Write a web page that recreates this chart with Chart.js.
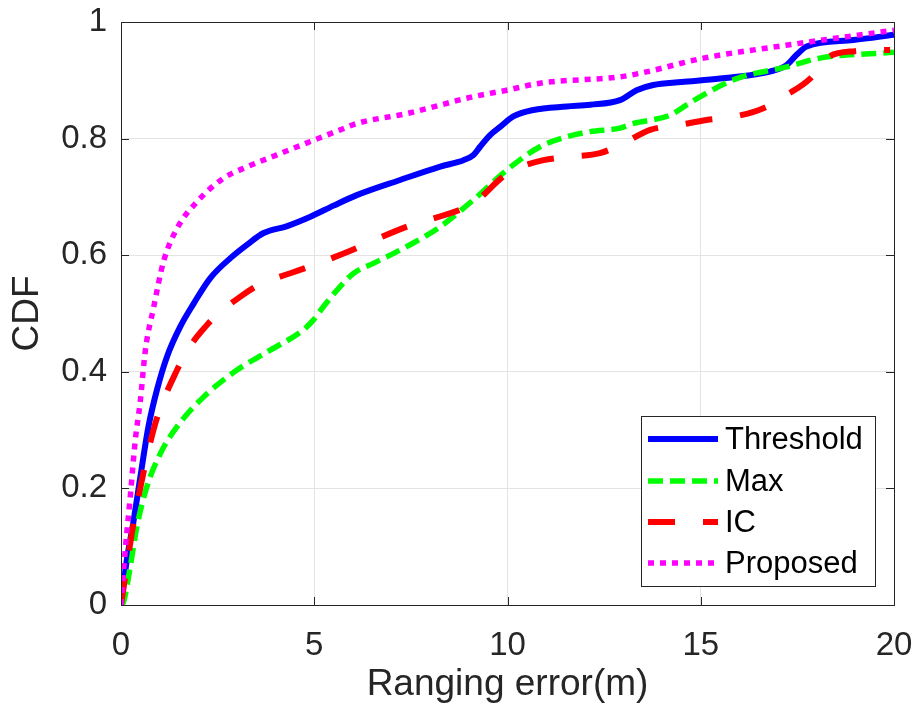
<!DOCTYPE html>
<html>
<head>
<meta charset="utf-8">
<script src="https://cdn.jsdelivr.net/npm/chart.js@4"></script>
<style>
  body { margin: 0; background: #fff; }
</style>
</head>
<body>
<canvas id="myChart" width="918" height="716"></canvas>
<script>
// values
const seriesNames = ['Threshold', 'Max', 'IC', 'Proposed'];

const thresholdX = [0, 0.15, 0.33, 0.54, 0.71, 0.93, 1.19, 1.53, 1.88, 2.3, 2.83, 3.3, 3.69, 4.3, 4.9, 5.5, 6.1, 7.22, 8.26, 8.86, 9.12, 9.29, 9.55, 9.81, 10.15, 10.67, 11.53, 12.14, 12.91, 13.34, 13.77, 14.5, 15.5, 16.79, 17.22, 17.5, 17.74, 18.95, 20];
const thresholdY = [0, 0.077, 0.146, 0.237, 0.306, 0.369, 0.426, 0.477, 0.517, 0.56, 0.595, 0.62, 0.638, 0.65, 0.666, 0.685, 0.703, 0.729, 0.752, 0.763, 0.772, 0.786, 0.806, 0.82, 0.838, 0.849, 0.855, 0.858, 0.866, 0.883, 0.892, 0.897, 0.903, 0.915, 0.926, 0.945, 0.958, 0.969, 0.978];

const maxX = [0, 0.07, 0.24, 0.41, 0.67, 1.02, 1.45, 2.14, 3.0, 3.86, 4.72, 4.98, 5.24, 5.67, 6.02, 6.53, 7.4, 8.26, 9.12, 9.98, 10.84, 11.53, 12.14, 12.91, 13.26, 14.2, 14.64, 15.07, 15.93, 17.22, 18.08, 20];
const maxY = [0, 0.006, 0.066, 0.134, 0.203, 0.26, 0.306, 0.357, 0.403, 0.437, 0.472, 0.489, 0.512, 0.546, 0.569, 0.586, 0.615, 0.649, 0.695, 0.746, 0.786, 0.803, 0.812, 0.818, 0.826, 0.84, 0.858, 0.875, 0.903, 0.923, 0.938, 0.948];

const icX = [0, 0.28, 0.54, 0.89, 1.45, 1.8, 2.22, 2.39, 3.09, 3.65, 4.38, 4.98, 5.76, 7.4, 8.77, 9.12, 9.89, 10.15, 10.93, 11.62, 12.39, 13.0, 13.69, 14.42, 15.15, 15.89, 16.62, 17.22, 17.83, 18.26, 18.99, 19.9];
const icY = [0, 0.123, 0.214, 0.312, 0.403, 0.445, 0.48, 0.492, 0.529, 0.552, 0.569, 0.583, 0.603, 0.649, 0.678, 0.689, 0.735, 0.746, 0.763, 0.769, 0.775, 0.792, 0.815, 0.823, 0.832, 0.838, 0.852, 0.875, 0.903, 0.938, 0.95, 0.952];

const proposedX = [0, 0.11, 0.24, 0.37, 0.5, 0.63, 0.84, 1.1, 1.45, 1.97, 2.65, 3.17, 4.03, 4.9, 5.67, 6.1, 7.4, 9.12, 9.98, 10.84, 12.91, 13.43, 15.07, 17.2, 20];
const proposedY = [0, 0.094, 0.186, 0.283, 0.35, 0.437, 0.509, 0.589, 0.646, 0.692, 0.732, 0.749, 0.772, 0.795, 0.815, 0.826, 0.843, 0.872, 0.883, 0.895, 0.906, 0.912, 0.938, 0.96, 0.986];

const yTickLabels = ['0', '0.2', '0.4', '0.6', '0.8', '1'];
const xTickLabels = ['0', '5', '10', '15', '20'];

const textColor = '#262626';
const fontFamily = '"Liberation Sans", Arial, Helvetica, sans-serif';

function pts(xs, ys) {
    return xs.map((x, i) => ({ x: x, y: ys[i] }));
}

function makeSet(label, xs, ys, color, width, dash, order) {
    return {
        label: label,
        data: pts(xs, ys),
        borderColor: color,
        backgroundColor: color,
        borderWidth: width,
        borderDash: dash,
        borderCapStyle: 'butt',
        pointRadius: 0,
        cubicInterpolationMode: 'monotone',
        fill: false,
        order: order
    };
}

// box with inward ticks on all four sides, like the original
const framePlugin = {
    id: 'frame',
    afterDatasetsDraw(chart) {
        const { ctx, chartArea: a, scales: { x, y } } = chart;
        ctx.save();
        ctx.strokeStyle = textColor;
        ctx.lineWidth = 1;
        ctx.strokeRect(Math.round(a.left) + 0.5, Math.round(a.top) + 0.5, Math.round(a.right - a.left), Math.round(a.bottom - a.top));
        const tl = 8;
        ctx.beginPath();
        x.ticks.forEach(t => {
            const px = Math.round(x.getPixelForValue(t.value)) + 0.5;
            ctx.moveTo(px, a.bottom); ctx.lineTo(px, a.bottom - tl);
            ctx.moveTo(px, a.top); ctx.lineTo(px, a.top + tl);
        });
        y.ticks.forEach(t => {
            const py = Math.round(y.getPixelForValue(t.value)) + 0.5;
            ctx.moveTo(a.left, py); ctx.lineTo(a.left + tl, py);
            ctx.moveTo(a.right, py); ctx.lineTo(a.right - tl, py);
        });
        ctx.stroke();
        ctx.restore();
    }
};

// legend box inside the lower right corner
const legendBox = {
    id: 'legendBox',
    afterDraw(chart) {
        const { ctx, chartArea: a } = chart;
        const w = 234, h = 170;
        const left = a.right - 19 - w;
        const top = a.bottom - 19 - h;
        ctx.save();
        ctx.fillStyle = '#fff';
        ctx.fillRect(left, top, w, h);
        ctx.strokeStyle = textColor;
        ctx.lineWidth = 1;
        ctx.strokeRect(Math.round(left) + 0.5, Math.round(top) + 0.5, w, h);
        const rows = [23, 65, 106, 147];
        chart.data.datasets.forEach((ds, i) => {
            const cy = top + rows[i];
            ctx.beginPath();
            ctx.strokeStyle = ds.borderColor;
            ctx.lineWidth = ds.borderWidth;
            ctx.lineCap = 'butt';
            ctx.setLineDash(ds.borderDash || []);
            ctx.moveTo(left + 7, cy);
            ctx.lineTo(left + 77, cy);
            ctx.stroke();
            ctx.setLineDash([]);
            ctx.fillStyle = '#000';
            ctx.font = '31px ' + fontFamily;
            ctx.textBaseline = 'middle';
            ctx.textAlign = 'left';
            ctx.fillText(ds.label, left + 84, cy + 1);
        });
        ctx.restore();
    }
};

const ctx = document.getElementById('myChart');

new Chart(ctx, {
    type: 'line',
    data: {
        datasets: [
            makeSet(seriesNames[0], thresholdX, thresholdY, '#0000ff', 6, [], 4),
            makeSet(seriesNames[1], maxX, maxY, '#00ff00', 5.5, [15, 7], 3),
            makeSet(seriesNames[2], icX, icY, '#ff0000', 6, [27, 28], 2),
            makeSet(seriesNames[3], proposedX, proposedY, '#ff00ff', 5.5, [6, 6], 1)
        ]
    },
    options: {
        responsive: false,
        animation: false,
        layout: {
            padding: { left: 0, right: 24, top: 22, bottom: 0 }
        },
        plugins: {
            legend: { display: false },
            tooltip: { enabled: false }
        },
        scales: {
            x: {
                type: 'linear',
                min: 0,
                max: 20,
                afterFit: scale => {
                    scale.height = 111;
                    scale.paddingLeft = 0;
                    scale.paddingRight = 0;
                },
                ticks: {
                    stepSize: 5,
                    maxRotation: 0,
                    padding: 21,
                    color: textColor,
                    font: { family: fontFamily, size: 33 },
                    callback: (v, i) => xTickLabels[i]
                },
                grid: { color: '#e3e3e3', drawTicks: false },
                border: { display: false },
                title: {
                    display: true,
                    text: 'Ranging error(m)',
                    color: textColor,
                    font: { family: fontFamily, size: 37 },
                    padding: { top: 0, bottom: 9 }
                }
            },
            y: {
                min: 0,
                max: 1,
                afterFit: scale => {
                    scale.width = 121;
                    scale.paddingTop = 0;
                    scale.paddingBottom = 0;
                },
                ticks: {
                    stepSize: 0.2,
                    padding: 14,
                    color: textColor,
                    font: { family: fontFamily, size: 33 },
                    callback: (v, i) => yTickLabels[i]
                },
                grid: { color: '#e3e3e3', drawTicks: false },
                border: { display: false },
                title: {
                    display: true,
                    text: 'CDF',
                    color: textColor,
                    font: { family: fontFamily, size: 37 },
                    padding: { top: 6, bottom: 0 }
                }
            }
        }
    },
    plugins: [framePlugin, legendBox]
});
</script>
</body>
</html>
